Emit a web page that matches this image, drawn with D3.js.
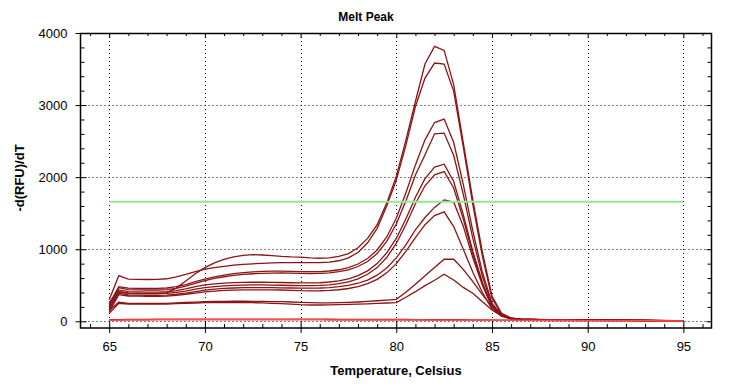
<!DOCTYPE html>
<html>
<head>
<meta charset="utf-8">
<script src="https://cdn.jsdelivr.net/npm/d3@7"></script>
<style>
  body { margin: 0; background: #fff; }
  text { font-family: "Liberation Sans", Arial, sans-serif; }
</style>
</head>
<body>
<script>
// temperature steps, 0.5 C apart
var temps = [65,65.5,66,66.5,67,67.5,68,68.5,69,69.5,70,70.5,71,71.5,72,72.5,73,73.5,74,74.5,
  75,75.5,76,76.5,77,77.5,78,78.5,79,79.5,80,80.5,81,81.5,82,82.5,83,83.5,84,84.5,
  85,85.5,86,86.5,87,87.5,88,88.5,89,89.5,90,90.5,91,91.5,92,92.5,93,93.5,94,94.5,95];

// -d(RFU)/dT per well
var well1 = [160,410,390,388,385,385,395,460,560,660,745,810,860,895,915,925,920,910,900,893,
  889,880,875,880,900,940,1020,1150,1340,1640,2010,2510,3050,3570,3814,3758,3280,2480,1680,960,
  350,110,45,30,26,24,22,21,20,19,18,17,16,15,14,13,12,11,10,9,8];
var well2 = [300,633,585,582,580,582,590,615,650,690,725,745,762,778,790,798,805,810,813,815,
  815,814,815,822,840,880,955,1090,1290,1600,1960,2440,2980,3375,3583,3569,3190,2420,1620,900,
  320,100,42,30,27,25,23,22,21,20,19,18,17,16,15,14,13,12,11,10,9];
var well3 = [240,480,460,458,456,456,462,480,510,550,585,615,640,660,675,686,693,696,696,694,
  690,688,690,698,715,745,795,870,990,1170,1430,1780,2170,2518,2758,2805,2480,1900,1250,680,
  250,90,40,28,25,23,21,20,19,18,17,16,15,14,13,12,11,10,9,8,7];
var well4 = [200,467,440,436,434,434,440,458,488,525,565,595,618,636,650,660,666,669,670,668,
  665,663,665,672,688,715,760,830,940,1110,1350,1670,2030,2310,2601,2611,2300,1760,1150,620,
  230,85,38,28,25,23,22,20,19,18,17,16,15,14,13,12,11,10,9,8,7];
var well5 = [260,435,411,408,405,405,410,425,450,480,505,520,530,536,540,542,542,540,538,535,
  532,532,535,545,562,590,635,700,800,950,1150,1420,1720,1980,2139,2180,1940,1480,970,540,
  210,80,36,27,24,22,21,20,19,18,17,16,15,14,13,12,11,10,9,8,7];
var well6 = [220,411,389,386,384,384,388,400,420,445,468,482,492,498,502,504,504,503,500,497,
  495,495,498,506,522,548,590,652,745,885,1080,1340,1630,1880,2032,2078,1850,1420,930,520,
  200,78,35,26,23,21,20,19,18,17,16,15,14,13,12,11,10,9,8,7,6];
var well7 = [180,390,365,362,360,360,364,375,392,412,432,446,456,462,466,468,468,467,465,462,
  460,460,462,468,480,498,528,572,640,740,880,1060,1270,1440,1580,1685,1653,1320,880,500,
  200,80,36,27,24,22,21,20,19,18,17,16,15,14,13,12,11,10,9,8,7];
var well8 = [130,370,351,348,346,346,350,360,375,392,408,420,428,433,436,437,437,436,434,430,
  425,423,424,428,438,455,482,522,582,672,800,970,1160,1340,1467,1518,1314,1000,680,400,
  170,70,32,25,22,21,20,19,18,17,16,15,14,13,12,11,10,9,8,7,6];
var well9 = [150,264,250,249,248,248,250,255,261,267,272,275,277,278,278,277,276,274,272,268,
  262,258,256,256,258,262,268,276,285,294,305,403,514,633,745,861,861,720,550,370,
  200,95,42,30,26,24,22,21,20,19,18,17,16,15,14,13,12,11,10,9,8];
var well10 = [110,250,240,239,238,238,240,244,249,254,258,260,261,261,260,258,255,250,245,238,
  230,226,226,227,230,234,238,243,248,254,260,333,411,495,569,653,574,470,389,270,
  157,75,32,25,22,21,20,19,18,17,16,15,14,13,12,11,10,9,8,7,6];
// negative controls
var neg1 = [20,22,24,25,26,27,28,28,29,29,30,30,30,30,30,29,29,29,28,28,
  28,27,27,27,26,26,26,25,25,25,24,24,23,23,22,22,21,20,19,18,
  17,16,15,14,13,13,12,12,11,11,10,10,9,9,8,8,7,7,6,6,5];
var neg2 = [12,15,17,18,19,20,21,21,22,22,22,22,22,22,22,21,21,21,21,20,
  20,20,20,19,19,19,19,18,18,18,18,17,17,17,16,16,16,15,15,14,
  14,13,13,12,12,11,11,10,10,9,9,9,8,8,7,7,6,6,5,5,4];

var samples = [well1, well2, well3, well4, well5, well6, well7, well8, well9, well10];
var controls = [neg1, neg2];
var threshold = 1657;

var xMajor = [65,70,75,80,85,90,95];
var xMinor = [64,66,67,68,69,71,72,73,74,76,77,78,79,81,82,83,84,86,87,88,89,91,92,93,94,96];
var yMajor = [0,1000,2000,3000,4000];
var yMinor = [200,400,600,800,1200,1400,1600,1800,2200,2400,2600,2800,3200,3400,3600,3800];

var width = 732, height = 389;
var pLeft = 80.5, pRight = 711.5, pTop = 33, pBottom = 328;

var svg = d3.select("body").append("svg")
    .attr("width", width)
    .attr("height", height);

var x = d3.scaleLinear().domain([63.5, 96.47]).range([pLeft, pRight]);
var y = d3.scaleLinear().domain([-93, 4000]).range([pBottom, pTop]);

// dotted grid
svg.append("g").selectAll("line").data(xMajor).enter().append("line")
    .attr("x1", function(d) { return Math.round(x(d)) + 0.5; })
    .attr("x2", function(d) { return Math.round(x(d)) + 0.5; })
    .attr("y1", pTop).attr("y2", pBottom)
    .attr("stroke", "#000").attr("stroke-dasharray", "1,3");
svg.append("g").selectAll("line").data(yMajor).enter().append("line")
    .attr("y1", function(d) { return Math.round(y(d)) + 0.5; })
    .attr("y2", function(d) { return Math.round(y(d)) + 0.5; })
    .attr("x1", pLeft).attr("x2", pRight)
    .attr("stroke", "#000").attr("stroke-dasharray", "1,3");

var line = d3.line()
    .x(function(d, i) { return x(temps[i]); })
    .y(function(d) { return y(d); });

svg.append("g").selectAll("path").data(samples).enter().append("path")
    .attr("d", line)
    .attr("fill", "none")
    .attr("stroke", "#8b1414")
    .attr("stroke-width", 1.3);

svg.append("g").selectAll("path").data(controls).enter().append("path")
    .attr("d", line)
    .attr("fill", "none")
    .attr("stroke", function(d, i) { return i == 0 ? "#ff0000" : "#f05050"; })
    .attr("stroke-width", 1.5);

svg.append("line")
    .attr("x1", x(65)).attr("x2", x(95))
    .attr("y1", y(threshold)).attr("y2", y(threshold))
    .attr("stroke", "#90e890").attr("stroke-width", 2);

// axes and frame
function tickStyle(g) {
  g.select(".domain").remove();
  g.selectAll("line").attr("stroke", "#000");
  g.selectAll("text").attr("fill", "#000").style("font-size", "13px")
    .style("font-family", "'Liberation Sans', Arial, sans-serif");
}

svg.append("g").attr("transform", "translate(0," + pBottom + ")")
    .call(d3.axisBottom(x).tickValues(xMajor).tickSize(5).tickPadding(9).tickFormat(d3.format("d")))
    .call(tickStyle);
svg.append("g").attr("transform", "translate(0," + pBottom + ")")
    .call(d3.axisTop(x).tickValues(xMajor).tickSize(6).tickFormat(""))
    .call(tickStyle);
svg.append("g").attr("transform", "translate(0," + pBottom + ")")
    .call(d3.axisTop(x).tickValues(xMinor).tickSize(4).tickFormat(""))
    .call(tickStyle);
svg.append("g").attr("transform", "translate(0," + pTop + ")")
    .call(d3.axisBottom(x).tickValues(xMajor).tickSize(5).tickFormat(""))
    .call(tickStyle);
svg.append("g").attr("transform", "translate(0," + pTop + ")")
    .call(d3.axisBottom(x).tickValues(xMinor).tickSize(3).tickFormat(""))
    .call(tickStyle);

svg.append("g").attr("transform", "translate(" + pLeft + ",0)")
    .call(d3.axisLeft(y).tickValues(yMajor).tickSize(5).tickPadding(8).tickFormat(d3.format("d")))
    .call(tickStyle);
svg.append("g").attr("transform", "translate(" + pLeft + ",0)")
    .call(d3.axisRight(y).tickValues(yMajor).tickSize(6).tickFormat(""))
    .call(tickStyle);
svg.append("g").attr("transform", "translate(" + pLeft + ",0)")
    .call(d3.axisRight(y).tickValues(yMinor).tickSize(4).tickFormat(""))
    .call(tickStyle);
svg.append("g").attr("transform", "translate(" + pRight + ",0)")
    .call(d3.axisLeft(y).tickValues(yMajor).tickSize(5).tickFormat(""))
    .call(tickStyle);
svg.append("g").attr("transform", "translate(" + pRight + ",0)")
    .call(d3.axisLeft(y).tickValues(yMinor).tickSize(4).tickFormat(""))
    .call(tickStyle);

svg.append("rect")
    .attr("x", pLeft).attr("y", pTop + 0.5)
    .attr("width", pRight - pLeft).attr("height", pBottom - pTop - 0.5)
    .attr("fill", "none").attr("stroke", "#000").attr("stroke-width", 1.5);

// titles
svg.append("text")
    .attr("x", 366).attr("y", 21)
    .attr("text-anchor", "middle")
    .style("font-size", "12px").style("font-weight", "bold")
    .text("Melt Peak");

svg.append("text")
    .attr("x", 396).attr("y", 375)
    .attr("text-anchor", "middle")
    .style("font-size", "13px").style("font-weight", "bold")
    .text("Temperature, Celsius");

svg.append("text")
    .attr("transform", "translate(24,178) rotate(-90)")
    .attr("text-anchor", "middle")
    .style("font-size", "13px").style("font-weight", "bold")
    .text("-d(RFU)/dT");
</script>
</body>
</html>
